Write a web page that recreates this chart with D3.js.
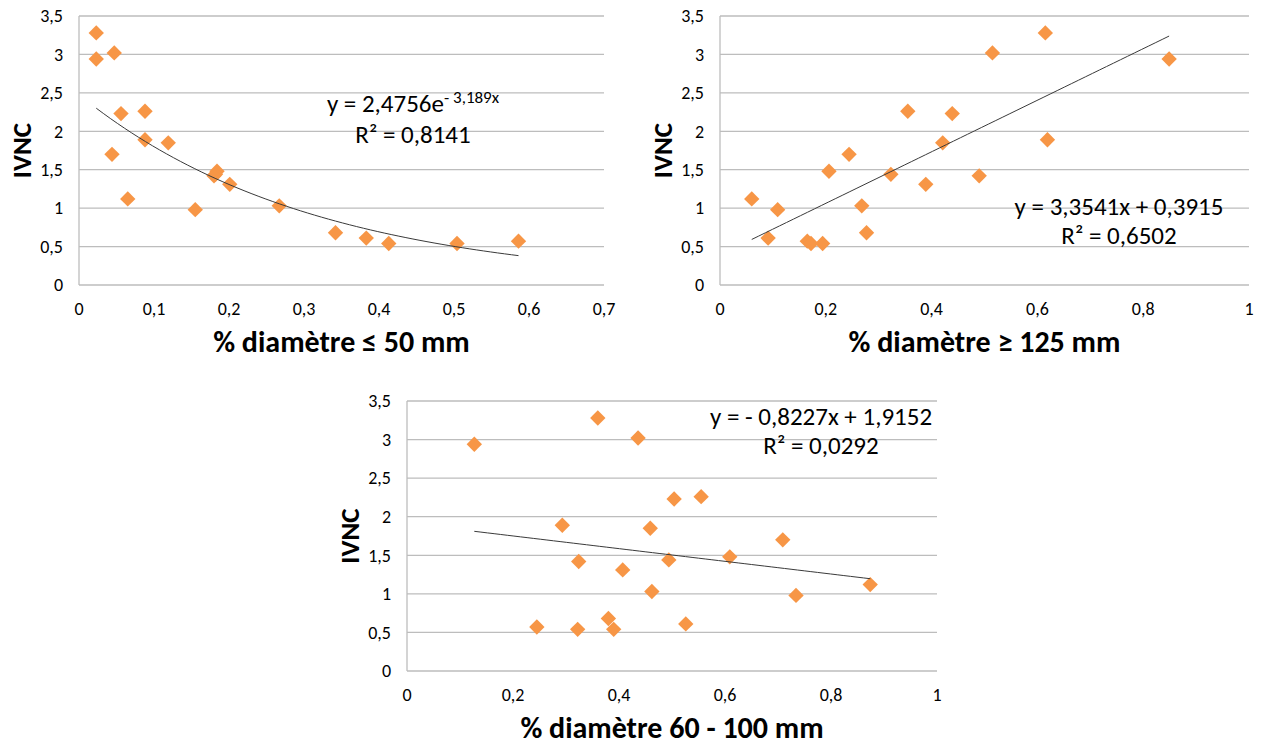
<!DOCTYPE html>
<html>
<head>
<meta charset="utf-8">
<script src="https://cdn.jsdelivr.net/npm/d3@7"></script>
<style>
  html, body { margin: 0; padding: 0; background: #ffffff; }
  svg { display: block; }
  text { font-family: Carlito, Lato, "Open Sans", sans-serif; fill: #000; }
</style>
</head>
<body>
<svg id="chart" width="1267" height="747"></svg>
<script>
// ---- Data ----
const ivnc        = [3.28, 2.94, 3.02, 2.26, 2.23, 1.89, 1.85, 1.70, 1.48, 1.44, 1.42, 1.31, 1.12, 1.03, 0.98, 0.68, 0.61, 0.57, 0.54, 0.54];
const pctLe50     = [0.023, 0.023, 0.047, 0.088, 0.056, 0.088, 0.119, 0.044, 0.184, 0.182, 0.180, 0.201, 0.065, 0.267, 0.155, 0.342, 0.383, 0.586, 0.413, 0.504];
const pctGe125    = [0.615, 0.849, 0.515, 0.355, 0.439, 0.619, 0.421, 0.244, 0.206, 0.323, 0.490, 0.389, 0.060, 0.268, 0.109, 0.277, 0.091, 0.165, 0.194, 0.172];
const pct60to100  = [0.360, 0.127, 0.436, 0.555, 0.504, 0.293, 0.459, 0.709, 0.609, 0.494, 0.324, 0.407, 0.874, 0.462, 0.734, 0.380, 0.526, 0.245, 0.390, 0.322];

const yTicks = [0, 0.5, 1, 1.5, 2, 2.5, 3, 3.5];
const xTicks1 = [0, 0.1, 0.2, 0.3, 0.4, 0.5, 0.6, 0.7];
const xTicks2 = [0, 0.2, 0.4, 0.6, 0.8, 1];

const titles = ["% diamètre ≤ 50 mm", "% diamètre ≥ 125 mm", "% diamètre 60 - 100 mm"];
const yTitle = "IVNC";

// trendline coefficients (as displayed)
const expFit = {a: 2.4756, b: -3.189, r2: "0,8141"};
const lin2 = {m: 3.3541, c: 0.3915, r2: "0,6502"};
const lin3 = {m: -0.8227, c: 1.9152, r2: "0,0292"};

const fmt = v => String(v).replace(".", ",");

const svg = d3.select("#chart");
svg.append("rect").attr("width", 1267).attr("height", 747).attr("fill", "#fff");

const panels = [
  { xs: pctLe50, xMax: 0.7, xTicks: xTicks1, left: 79, right: 604, top: 16, bottom: 285,
    title: titles[0], fit: x => expFit.a * Math.exp(expFit.b * x),
    eq: {cx: 413, y1: 112, y2: 143, kind: "exp"} },
  { xs: pctGe125, xMax: 1, xTicks: xTicks2, left: 720, right: 1249, top: 16, bottom: 285,
    title: titles[1], fit: x => lin2.m * x + lin2.c,
    eq: {cx: 1119, y1: 215, y2: 244, text: "y = 3,3541x + 0,3915", r2: lin2.r2} },
  { xs: pct60to100, xMax: 1, xTicks: xTicks2, left: 407, right: 937, top: 401, bottom: 671,
    title: titles[2], fit: x => lin3.m * x + lin3.c,
    eq: {cx: 821, y1: 425, y2: 454, text: "y = - 0,8227x + 1,9152", r2: lin3.r2} }
];

const gridColor = "#BDBDBD";
const orange = "#F79646";
const eqSize = 25;

panels.forEach(p => {
  const x = d3.scaleLinear().domain([0, p.xMax]).range([p.left, p.right]);
  const y = d3.scaleLinear().domain([0, 3.5]).range([p.bottom, p.top]);
  const g = svg.append("g");

  // gridlines
  g.selectAll("line.grid").data(yTicks).join("line")
    .attr("x1", p.left).attr("x2", p.right)
    .attr("y1", d => y(d)).attr("y2", d => y(d))
    .attr("stroke", gridColor).attr("stroke-width", 1.3);
  // left axis line
  g.append("line").attr("x1", p.left).attr("x2", p.left)
    .attr("y1", p.top).attr("y2", p.bottom)
    .attr("stroke", gridColor).attr("stroke-width", 1.3);

  // y tick labels
  g.selectAll("text.yt").data(yTicks).join("text")
    .attr("x", p.left - 16).attr("y", d => y(d))
    .attr("dy", "0.35em").attr("text-anchor", "end")
    .attr("font-size", 18).attr("fill", "#333")
    .text(d => fmt(d));
  // x tick labels
  g.selectAll("text.xt").data(p.xTicks).join("text")
    .attr("x", d => x(d)).attr("y", p.bottom + 24)
    .attr("dy", "0.35em").attr("text-anchor", "middle")
    .attr("font-size", 18).attr("fill", "#333")
    .text(d => fmt(d));

  // axis titles
  g.append("text").attr("x", (p.left + p.right) / 2).attr("y", p.bottom + 56)
    .attr("dy", "0.35em").attr("text-anchor", "middle")
    .attr("font-size", 30).attr("font-weight", "bold")
    .text(p.title);
  const cy = (p.top + p.bottom) / 2;
  g.append("text").attr("transform", `translate(${p.left - 57},${cy}) rotate(-90)`)
    .attr("dy", "0.35em").attr("text-anchor", "middle")
    .attr("font-size", 27).attr("font-weight", "bold")
    .text(yTitle);

  // markers
  const pts = ivnc.map((v, i) => ({xv: p.xs[i], yv: v}));
  const sym = d3.symbol().type(d3.symbolSquare).size(118);
  g.selectAll("path.pt").data(pts).join("path")
    .attr("d", sym)
    .attr("transform", d => `translate(${x(d.xv)},${y(d.yv)}) rotate(45)`)
    .attr("fill", orange);

  // trendline
  const [xmin, xmax] = d3.extent(p.xs);
  const samples = d3.range(0, 61).map(i => xmin + (xmax - xmin) * i / 60);
  const line = d3.line().x(d => x(d)).y(d => y(p.fit(d)));
  g.append("path").attr("d", line(samples))
    .attr("fill", "none").attr("stroke", "#3a3a3a").attr("stroke-width", 1);

  // equation labels
  if (p.eq.kind === "exp") {
    const t = g.append("text").attr("x", p.eq.cx).attr("y", p.eq.y1)
      .attr("text-anchor", "middle").attr("font-size", eqSize).attr("fill", "#222");
    t.append("tspan").text("y = " + fmt(expFit.a) + "e");
    t.append("tspan").attr("dy", -9).attr("font-size", 17).text("- " + fmt(-expFit.b) + "x");
    g.append("text").attr("x", p.eq.cx).attr("y", p.eq.y2)
      .attr("text-anchor", "middle").attr("font-size", eqSize).attr("fill", "#222")
      .text("R² = " + expFit.r2);
  } else {
    g.append("text").attr("x", p.eq.cx).attr("y", p.eq.y1)
      .attr("text-anchor", "middle").attr("font-size", eqSize).attr("fill", "#222")
      .text(p.eq.text);
    g.append("text").attr("x", p.eq.cx).attr("y", p.eq.y2)
      .attr("text-anchor", "middle").attr("font-size", eqSize).attr("fill", "#222")
      .text("R² = " + p.eq.r2);
  }
});
</script>
</body>
</html>
